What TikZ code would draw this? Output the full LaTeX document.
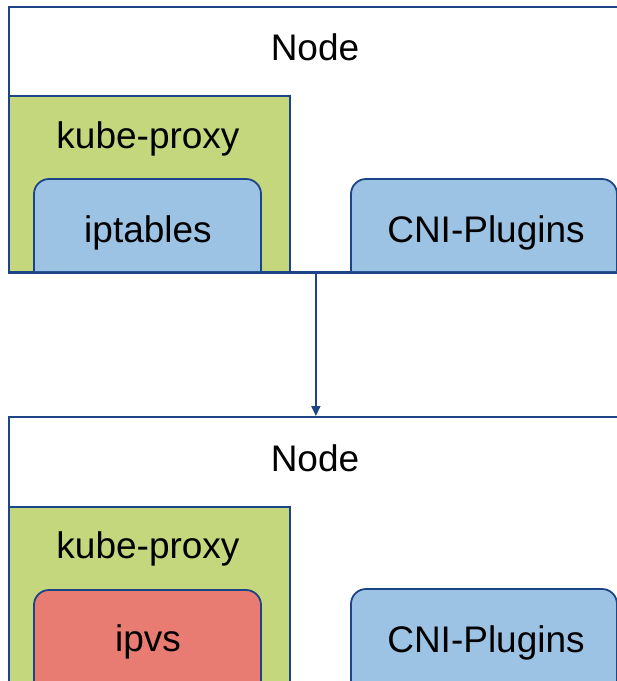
\documentclass[tikz,border=0pt]{standalone}
\usepackage{fontspec}
\setmainfont{Liberation Sans}
\usetikzlibrary{arrows.meta}
\definecolor{edge}{HTML}{1C4587}
\definecolor{proxyfill}{HTML}{C4D77C}
\definecolor{bluefill}{HTML}{9CC2E4}
\definecolor{redfill}{HTML}{E87C72}
\tikzset{
  edgeline/.style={draw=edge, line width=1.8pt},
  nodebox/.style={edgeline, fill=white, rectangle, inner sep=0pt, anchor=north west},
  proxybox/.style={edgeline, fill=proxyfill, rectangle, inner sep=0pt, anchor=north west},
  tab/.style={edgeline, rounded corners=15pt},
  lbl/.style={inner sep=0pt, anchor=base, font=\fontsize{37}{42}\selectfont, text=black},
  flow/.style={draw=edge, line width=1.8pt, -{Triangle[length=10pt,width=9pt]}}
}
\begin{document}
\begin{tikzpicture}[x=1pt, y=-1pt]
\useasboundingbox (0,0) rectangle (617,681);
\clip (0,0) rectangle (617,681);

% ---- upper node (iptables mode) ----
\node[nodebox, minimum width=614pt, minimum height=265pt] (nodeA) at (8,6) {};
\node[lbl] (nodeAlbl) at (315,60) {Node};
\node[proxybox, minimum width=281pt, minimum height=176pt] (proxyA) at (8,95) {};
\node[lbl] (proxyAlbl) at (148,148) {kube-proxy};
\draw[tab, fill=bluefill] (34,271) -- (34,179) -- (261,179) -- (261,271);
\node[lbl] (iptables) at (148,242) {iptables};
\draw[tab, fill=bluefill] (351,271) -- (351,179) -- (617,179) -- (617,271);
\node[lbl] (cniA) at (486,242) {CNI-Plugins};
\draw[edgeline] (nodeA.south west) -- (nodeA.south east);

% ---- lower node (ipvs mode) ----
\node[nodebox, minimum width=614pt, minimum height=265pt] (nodeB) at (8,416) {};
\node[lbl] (nodeBlbl) at (315,471) {Node};
\node[proxybox, minimum width=281pt, minimum height=176pt] (proxyB) at (8,506) {};
\node[lbl] (proxyBlbl) at (148,558) {kube-proxy};
\draw[tab, fill=redfill] (34,700) -- (34,590) -- (261,590) -- (261,700);
\node[lbl] (ipvs) at (148,651) {ipvs};
\draw[tab, fill=bluefill] (351,700) -- (351,589) -- (617,589) -- (617,700);
\node[lbl] (cniB) at (486,652) {CNI-Plugins};

% ---- transition ----
\draw[flow] (nodeA.south) -- (nodeB.north);
\end{tikzpicture}
\end{document}
